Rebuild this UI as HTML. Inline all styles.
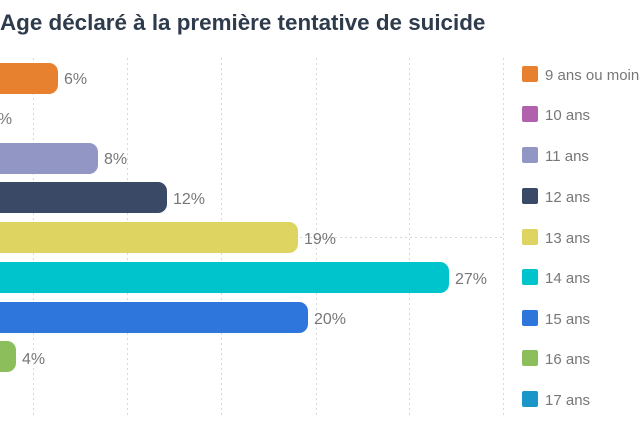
<!DOCTYPE html>
<html><head><meta charset="utf-8"><style>
body{margin:0;width:640px;height:427px;background:#fff;overflow:hidden;font-family:"Liberation Sans",sans-serif;}
</style></head><body>
<svg width="640" height="427" xmlns="http://www.w3.org/2000/svg" font-family="Liberation Sans, sans-serif">
<text x="0" y="30" font-size="22.4" font-weight="bold" fill="#2e3b4c">Age déclaré à la première tentative de suicide</text>
<g stroke="#d8d8d8" stroke-width="1" stroke-dasharray="2,3">
<line x1="33.5" y1="58" x2="33.5" y2="415"/>
<line x1="127.5" y1="58" x2="127.5" y2="415"/>
<line x1="221.5" y1="58" x2="221.5" y2="415"/>
<line x1="316.5" y1="58" x2="316.5" y2="415"/>
<line x1="409.5" y1="58" x2="409.5" y2="415"/>
<line x1="503.5" y1="58" x2="503.5" y2="415"/>
<line x1="300" y1="237.5" x2="503" y2="237.5"/>
</g>
<g>
<rect x="-20" y="63" width="78" height="31" rx="9" fill="#e8812f"/>
<rect x="-20" y="143" width="118" height="31" rx="9" fill="#9296c4"/>
<rect x="-20" y="182" width="187" height="31" rx="9" fill="#3a4966"/>
<rect x="-20" y="222" width="318" height="31" rx="9" fill="#ded462"/>
<rect x="-20" y="262" width="469" height="31" rx="9" fill="#00c4cc"/>
<rect x="-20" y="302" width="328" height="31" rx="9" fill="#2f76dc"/>
<rect x="-20" y="341" width="36" height="31" rx="9" fill="#8cbf5c"/>
</g>
<g font-size="16" fill="#777">
<text x="64" y="84">6%</text>
<text x="-11" y="124">0%</text>
<text x="104" y="164">8%</text>
<text x="173" y="204">12%</text>
<text x="304" y="244">19%</text>
<text x="455" y="284">27%</text>
<text x="314" y="324">20%</text>
<text x="22" y="364">4%</text>
</g>
<g>
<rect x="522" y="66" width="16" height="16" rx="2" fill="#e8812f"/>
<rect x="522" y="106" width="16" height="16" rx="2" fill="#b262ad"/>
<rect x="522" y="147" width="16" height="16" rx="2" fill="#9296c4"/>
<rect x="522" y="188" width="16" height="16" rx="2" fill="#3a4966"/>
<rect x="522" y="229" width="16" height="16" rx="2" fill="#ded462"/>
<rect x="522" y="269" width="16" height="16" rx="2" fill="#00c4cc"/>
<rect x="522" y="310" width="16" height="16" rx="2" fill="#2f76dc"/>
<rect x="522" y="350" width="16" height="16" rx="2" fill="#8cbf5c"/>
<rect x="522" y="391" width="16" height="16" rx="2" fill="#1a96c8"/>
</g>
<g font-size="15" fill="#777">
<text x="545" y="80">9 ans ou moins</text>
<text x="545" y="120">10 ans</text>
<text x="545" y="161">11 ans</text>
<text x="545" y="202">12 ans</text>
<text x="545" y="243">13 ans</text>
<text x="545" y="283">14 ans</text>
<text x="545" y="324">15 ans</text>
<text x="545" y="364">16 ans</text>
<text x="545" y="405">17 ans</text>
</g>
</svg>
</body></html>
